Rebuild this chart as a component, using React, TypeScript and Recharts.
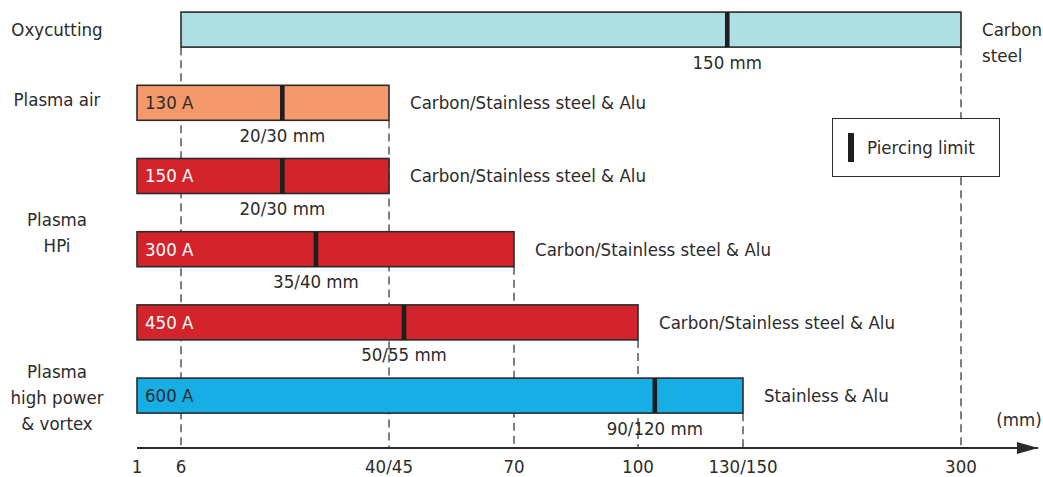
import { Bar, ComposedChart, Legend, ReferenceDot, ReferenceLine, XAxis, YAxis } from "recharts";

const FONT = "'Liberation Sans Narrow', 'DejaVu Sans Condensed', Roboto, sans-serif";
const INK = "#2b2b2b";

// x axis ticks (mm) and their printed labels
const tickMm = [1, 6, 45, 70, 100, 150, 300];
const tickLabels = ["1", "6", "40/45", "70", "100", "130/150", "300"];

// one entry per bar, top to bottom
const currents = ["", "130 A", "150 A", "300 A", "450 A", "600 A"];
const rangeStart = [6, 1, 1, 1, 1, 1];
const rangeEnd = [300, 45, 45, 70, 100, 150];
const piercing = [142.5, 25, 25, 31.3, 48, 108];
const piercingLabels = ["150 mm", "20/30 mm", "20/30 mm", "35/40 mm", "50/55 mm", "90/120 mm"];
const materials = [
  ["Carbon", "steel"],
  ["Carbon/Stainless steel & Alu"],
  ["Carbon/Stainless steel & Alu"],
  ["Carbon/Stainless steel & Alu"],
  ["Carbon/Stainless steel & Alu"],
  ["Stainless & Alu"],
];
const families = ["oxy", "air", "hpi", "hpi", "hpi", "hv"];

// process names on the left and the row they sit against
const groupLabels = [["Oxycutting"], ["Plasma air"], ["Plasma", "HPi"], ["Plasma", "high power", "& vortex"]];
const groupRows = [0, 0.96, 2.77, 5.03];

// the drawing is not to scale: where each tick sits along the axis
const tickStops = [0, 44, 252, 377, 501, 606, 824];
const axisEnd = 901;
const ROW_PX = 73.2;
const BAR = 35;
const yTop = -29.7 / ROW_PX;
const yBottom = (448 - 29.7) / ROW_PX;

const familyStyle: Record<string, { fill: string; text: string }> = {
  oxy: { fill: "#aedfe3", text: INK },
  air: { fill: "#f5996c", text: INK },
  hpi: { fill: "#d3232b", text: "#ffffff" },
  hv: { fill: "#16aee4", text: INK },
};

function toAxis(mm: number) {
  for (let i = 0; i < tickMm.length - 1; i++) {
    if (mm <= tickMm[i + 1]) {
      const t = (mm - tickMm[i]) / (tickMm[i + 1] - tickMm[i]);
      return tickStops[i] + t * (tickStops[i + 1] - tickStops[i]);
    }
  }
  return tickStops[tickStops.length - 1];
}

const data = currents.map((current, i) => ({
  row: i,
  current,
  range: [toAxis(rangeStart[i]), toAxis(rangeEnd[i])],
  pierce: toAxis(piercing[i]),
  pierceLabel: piercingLabels[i],
  material: materials[i],
  family: families[i],
}));

// dashed guide from the first bar that starts or ends on a tick down to the axis
const guides = tickMm
  .map((mm, i) => {
    const row = rangeEnd.findIndex((e, r) => e === mm || (rangeStart[r] === mm && mm !== 1));
    return { x: tickStops[i], row };
  })
  .filter((g, i) => i > 0 && g.row >= 0);

function RangeBar(props: any) {
  const { x, y, width, height, payload } = props;
  const [a, b] = payload.range;
  const px = x + (width * (payload.pierce - a)) / (b - a);
  const st = familyStyle[payload.family];
  const cy = y + height / 2;
  return (
    <g fontFamily={FONT} fontSize={18.5}>
      <rect x={x} y={y} width={width} height={height} fill={st.fill} stroke={INK} strokeWidth={1.6} />
      <rect x={px - 2.3} y={y} width={4.6} height={height} fill="#1e1e1e" />
      {payload.current && (
        <text x={x + 8} y={cy} dy="0.35em" fill={st.text}>
          {payload.current}
        </text>
      )}
      <text x={px} y={y + height + 15} dy="0.35em" textAnchor="middle" fill={INK}>
        {payload.pierceLabel}
      </text>
      {payload.material.map((m: string, i: number) => (
        <text key={i} x={x + width + 21} y={cy + i * 26} dy="0.35em" fill={INK}>
          {m}
        </text>
      ))}
    </g>
  );
}

function GroupTick(props: any) {
  const { y, payload } = props;
  const lines = groupLabels[groupRows.indexOf(payload.value)] ?? [];
  const top = y - ((lines.length - 1) * 26) / 2;
  return (
    <text textAnchor="middle" fontFamily={FONT} fontSize={18.5} fill={INK}>
      {lines.map((l, i) => (
        <tspan key={i} x={57} y={top + i * 26} dy="0.35em">
          {l}
        </tspan>
      ))}
    </text>
  );
}

function MmTick(props: any) {
  const { x, y, payload } = props;
  return (
    <text x={x} y={y + 25} textAnchor="middle" fontFamily={FONT} fontSize={18.5} fill={INK}>
      {tickLabels[tickStops.indexOf(payload.value)]}
    </text>
  );
}

function Arrow(props: any) {
  const { cx, cy } = props;
  return (
    <g>
      <polygon points={`${cx - 21},${cy - 6} ${cx},${cy} ${cx - 21},${cy + 6}`} fill={INK} />
      <text x={cx - 19} y={cy - 28} dy="0.35em" textAnchor="middle" fontFamily={FONT} fontSize={18.5} fill={INK}>
        (mm)
      </text>
    </g>
  );
}

function PiercingLegend() {
  return (
    <div
      style={{
        width: 168,
        height: 59,
        boxSizing: "border-box",
        border: `1.6px solid ${INK}`,
        background: "#fff",
        display: "flex",
        alignItems: "center",
        fontFamily: FONT,
        fontSize: 18.5,
        color: INK,
      }}
    >
      <span style={{ display: "inline-block", width: 6, height: 29, background: "#1e1e1e", marginLeft: 15, marginRight: 13 }} />
      Piercing limit
    </div>
  );
}

export default function App() {
  return (
    <div style={{ position: "absolute", left: 0, top: 0, width: 1043, height: 477, background: "#fff" }}>
      <ComposedChart width={1043} height={477} data={data} layout="vertical" margin={{ top: 0, right: 5, bottom: 0, left: 0 }}>
        <XAxis
          type="number"
          domain={[0, axisEnd]}
          ticks={tickStops}
          interval={0}
          tickLine={false}
          tickSize={0}
          tickMargin={0}
          height={29}
          axisLine={{ stroke: INK, strokeWidth: 2 }}
          tick={<MmTick />}
        />
        <YAxis
          type="number"
          dataKey="row"
          domain={[yTop, yBottom]}
          ticks={groupRows}
          interval={0}
          width={137}
          tickLine={false}
          axisLine={false}
          tick={<GroupTick />}
        />
        {guides.map((g) => (
          <ReferenceLine
            key={g.x}
            segment={[
              { x: g.x, y: g.row + BAR / 2 / ROW_PX },
              { x: g.x, y: yBottom },
            ]}
            stroke={INK}
            strokeWidth={1.2}
            strokeDasharray="8 5"
            ifOverflow="visible"
            zIndex={100}
          />
        ))}
        <Bar dataKey="range" barSize={BAR} shape={<RangeBar />} isAnimationActive={false} />
        <ReferenceDot x={axisEnd} y={yBottom} r={0} shape={<Arrow />} ifOverflow="visible" />
        <Legend
          layout="horizontal"
          verticalAlign="middle"
          content={<PiercingLegend />}
          wrapperStyle={{ position: "absolute", left: 832, top: 118, width: 168, height: 59 }}
        />
      </ComposedChart>
    </div>
  );
}
